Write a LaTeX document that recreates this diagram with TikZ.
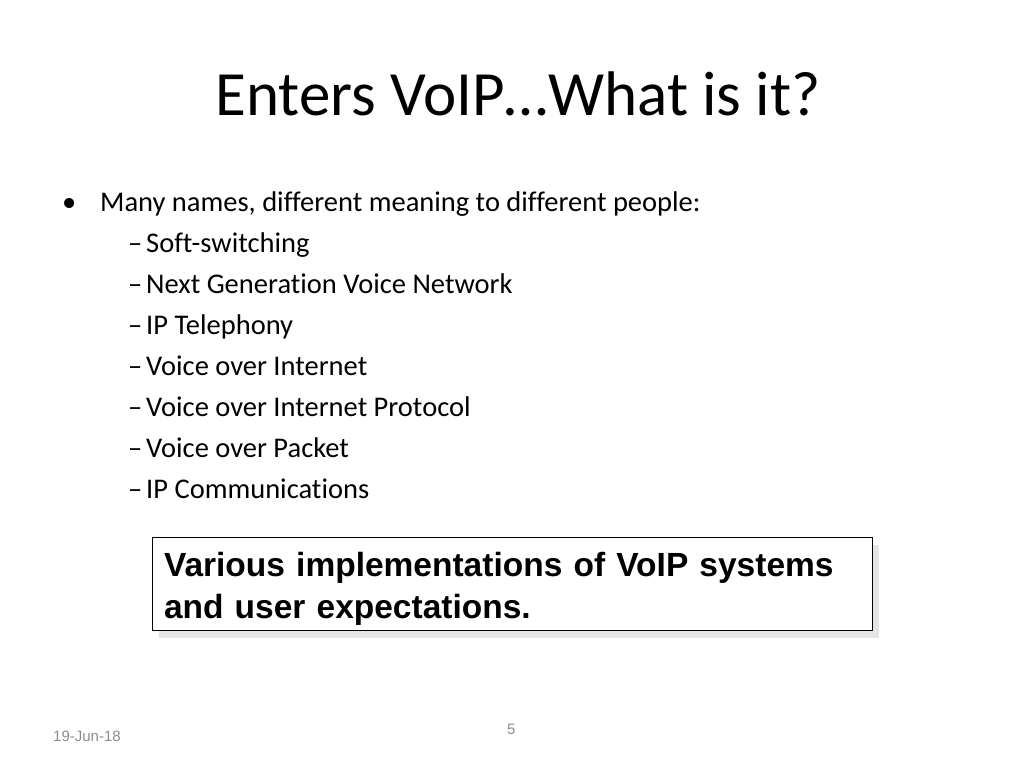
\documentclass[tikz,border=0pt]{standalone}
\usepackage{fontspec}
\setmainfont{Carlito}[Ligatures=NoCommon]
\newfontfamily\notefont{Liberation Sans}
\usetikzlibrary{positioning, shadows}
\definecolor{footgray}{rgb}{0.55, 0.55, 0.55}
\definecolor{shadegray}{rgb}{0.9, 0.9, 0.9}

\begin{document}
\begin{tikzpicture}
[x=1pt, y=-1pt,
 ttl/.style={anchor=base, inner sep=0pt, font=\fontsize{63}{70}\selectfont},
 itm/.style={anchor=base west, inner sep=0pt, font=\fontsize{28.5}{34}\selectfont},
 note/.style={rectangle, draw=black, thin, fill=white, minimum width=720pt, minimum height=93pt,
   inner xsep=12pt, text width=696pt, align=left,
   drop shadow={shadow xshift=7pt, shadow yshift=-7pt, fill=shadegray, opacity=1},
   font=\notefont\bfseries\fontsize{33.5}{38}\selectfont},
 foot/.style={anchor=base west, inner sep=0pt, text=footgray, font=\notefont\fontsize{15}{18}\selectfont}]

\useasboundingbox (0,0) rectangle (1024,768);

% title
\node[ttl] (title) at (518,115) {Enters VoIP\ldots What is it?};

% bullet list
\node[itm] (bul) at (62,211) {•};
\node[itm] (names) at (100,211) {Many names, different meaning to different people:};
\foreach \txt [count=\i] in {Soft-switching, Next Generation Voice Network, IP Telephony,
  Voice over Internet, Voice over Internet Protocol, Voice over Packet, IP Communications}
{
  \node[itm] (dash\i) at (128,211+41*\i) {–};
  \node[itm] (name\i) at (146,211+41*\i) {\txt};
}

% boxed remark
\node[note] (remark) at (512,584) {\rule{0pt}{34pt}Various implementations of VoIP systems\\[4pt]and user expectations.};

% footer
\node[foot] (date) at (53,741) {19-Jun-18};
\node[foot] (page) at (507,734) {5};

\end{tikzpicture}
\end{document}
